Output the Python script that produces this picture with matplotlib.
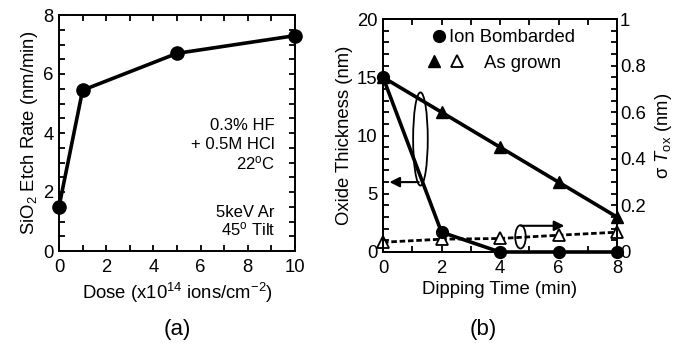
import matplotlib
matplotlib.use("Agg")
import matplotlib.pyplot as plt
from matplotlib.patches import Ellipse
from matplotlib.legend_handler import HandlerTuple
from matplotlib.lines import Line2D
from matplotlib.ticker import MultipleLocator, FormatStrFormatter

plt.rcParams['font.family'] = ['Liberation Sans', 'DejaVu Sans']
plt.rcParams['mathtext.fontset'] = 'custom'
plt.rcParams['mathtext.rm'] = 'Liberation Sans'
plt.rcParams['mathtext.it'] = 'Liberation Sans:italic'

# ---- data panel (a)
dose = [0, 1, 5, 10]
etch_rate = [1.5, 5.45, 6.7, 7.3]

# ---- data panel (b)
time_min = [0, 2, 4, 6, 8]
ion_bombarded = [15, 1.7, 0, 0, 0]
as_grown = [15, 12, 9, 6, 3]
sigma_tox = [0.042, 0.055, 0.058, 0.072, 0.085]

FS = 13.3
fig = plt.figure(figsize=(6.84, 3.43), dpi=100)
W, H = 684, 343

def px_axes(l, t, r, b):
    return fig.add_axes([l / W, 1 - b / H, (r - l) / W, (b - t) / H])

def style(ax):
    for s in ax.spines.values():
        s.set_linewidth(1.4)
    ax.tick_params(which='both', direction='in', length=4, width=1.3,
                   labelsize=FS)

# ---------------- panel (a)
ax1 = px_axes(59, 15, 295, 251)
ax1.plot(dose, etch_rate, color='black', lw=2.6, marker='o', ms=9.5,
         clip_on=False, zorder=3)
ax1.set_xlim(0, 10)
ax1.set_ylim(0, 8)
ax1.xaxis.set_major_locator(MultipleLocator(2))
ax1.xaxis.set_minor_locator(MultipleLocator(1))
ax1.yaxis.set_major_locator(MultipleLocator(2))
ax1.yaxis.set_minor_locator(MultipleLocator(0.5))
style(ax1)
ax1.tick_params(which='both', top=True, right=True)
ax1.tick_params(axis='x', pad=6)
ax1.tick_params(axis='y', pad=4)
ax1.set_xlabel('Dose (x10$^{14}$ ions/cm$^{-2}$)', fontsize=FS, labelpad=3)
ax1.set_ylabel('SiO$_2$ Etch Rate (nm/min)', fontsize=FS, labelpad=2)
AF = 12
ax1.text(9.15, 4.24, '0.3% HF', ha='right', va='center', fontsize=AF)
ax1.text(9.15, 3.62, '+ 0.5M HCl', ha='right', va='center', fontsize=AF)
ax1.text(9.15, 2.98, '22$^{\\rm o}$C', ha='right', va='center', fontsize=AF)
ax1.text(9.15, 1.32, '5keV Ar', ha='right', va='center', fontsize=AF)
ax1.text(9.15, 0.72, '45$^{\\rm o}$ Tilt', ha='right', va='center', fontsize=AF)
fig.text(177 / W, 1 - 330 / H, '(a)', ha='center', va='center', fontsize=16)

# ---------------- panel (b)
ax2 = px_axes(383, 19, 617, 252)
ax2.plot(time_min, ion_bombarded, color='black', lw=2.6, marker='o', ms=8.5,
         clip_on=False, zorder=4)
ax2.plot(time_min, as_grown, color='black', lw=2.6, marker='^', ms=8,
         clip_on=False, zorder=4)
ax2.set_xlim(0, 8)
ax2.set_ylim(0, 20)
ax2.xaxis.set_major_locator(MultipleLocator(2))
ax2.xaxis.set_minor_locator(MultipleLocator(1))
ax2.yaxis.set_major_locator(MultipleLocator(5))
ax2.yaxis.set_minor_locator(MultipleLocator(1))
style(ax2)
ax2.tick_params(which='both', top=True, right=False)
ax2.tick_params(axis='x', pad=6)
ax2.tick_params(axis='y', pad=4)
ax2.set_xlabel('Dipping Time (min)', fontsize=FS, labelpad=3)
ax2.set_ylabel('Oxide Thickness (nm)', fontsize=FS, labelpad=3)

ax3 = ax2.twinx()
ax3.plot(time_min, sigma_tox, color='black', lw=2.0, ls=(0, (2.0, 1.0)),
         marker='^', ms=8, mfc='white', mec='black', mew=1.3,
         clip_on=False, zorder=3)
ax3.set_ylim(0, 1)
ax3.yaxis.set_major_locator(MultipleLocator(0.2))
ax3.yaxis.set_minor_locator(MultipleLocator(0.05))
ax3.yaxis.set_major_formatter(FormatStrFormatter('%g'))
style(ax3)
ax3.tick_params(which='both', left=False, right=True, labelleft=False)
ax3.tick_params(axis='y', pad=2)
ax3.set_ylabel('σ $T_{\\rm ox}$ (nm)', fontsize=FS, labelpad=5)
ax2.set_zorder(ax3.get_zorder() + 1)
ax2.patch.set_visible(False)

# ellipses and arrows
ax2.add_patch(Ellipse((1.28, 9.7), 0.5, 8.0, fill=False, lw=1.3,
                      color='black', zorder=5))
ax2.annotate('', xy=(0.22, 6.0), xytext=(1.22, 6.0),
             arrowprops=dict(arrowstyle='-|>,head_length=0.6,head_width=0.3',
                             lw=1.5, color='black', shrinkA=0, shrinkB=0))
ax2.add_patch(Ellipse((4.7, 1.3), 0.36, 2.0, fill=False, lw=1.3,
                      color='black', zorder=5))
ax2.annotate('', xy=(6.2, 2.25), xytext=(4.72, 2.25),
             arrowprops=dict(arrowstyle='-|>,head_length=0.6,head_width=0.3',
                             lw=1.5, color='black', shrinkA=0, shrinkB=0))

# legend
h_circ = Line2D([], [], ls='none', marker='o', ms=8.5, color='black')
h_tri = Line2D([], [], ls='none', marker='^', ms=9, color='black')
h_otri = Line2D([], [], ls='none', marker='^', ms=9, mfc='white',
                mec='black', mew=1.3)
leg1 = ax2.legend([h_circ], ['Ion Bombarded'], loc='center left',
                  bbox_to_anchor=(0.213, 0.92), frameon=False, fontsize=FS,
                  handlelength=0.7, handletextpad=0.2, borderpad=0,
                  borderaxespad=0)
ax2.add_artist(leg1)
ax2.legend([(h_tri, h_otri)], ['As grown'], loc='center left',
           bbox_to_anchor=(0.18, 0.81), frameon=False, fontsize=FS,
           handler_map={tuple: HandlerTuple(ndivide=None, pad=0.3)},
           handlelength=2.2, handletextpad=1.0, borderpad=0, borderaxespad=0)

fig.text(483 / W, 1 - 330 / H, '(b)', ha='center', va='center', fontsize=16)

fig.savefig('out.png', dpi=100)
